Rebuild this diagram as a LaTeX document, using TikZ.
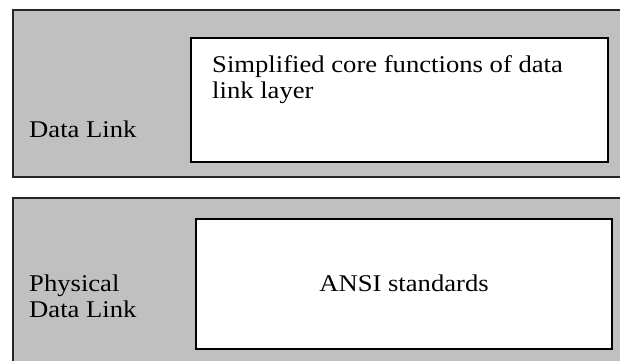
\documentclass[tikz,border=0pt]{standalone}
\usepackage{fontspec}
\setmainfont{Liberation Serif}[FakeStretch=1.11]
\usetikzlibrary{positioning}
\definecolor{layergray}{RGB}{192,192,192}
\tikzstyle{layer}=[draw=black!85,line width=1.5pt,fill=layergray,anchor=north west,inner sep=0pt]
\tikzstyle{funcbox}=[draw=black,line width=2pt,fill=white,anchor=north west,inner sep=0pt]
\tikzstyle{label}=[anchor=base west,inner sep=0pt,align=left]

\begin{document}
\begin{tikzpicture}[x=1pt,y=1pt,font=\fontsize{24}{26.5}\selectfont]
    \useasboundingbox (0,0) rectangle (620,-360);
    \clip (0,0) rectangle (620,-360);
    % upper layer
    \node (DL) [layer,minimum width=640pt,minimum height=167pt] at (12,-9) {};
    \node (DLcore) [funcbox,minimum width=417pt,minimum height=124pt] at (190,-37) {};
    \node (DLtext) [label] at (212,-98.5) {Simplified core functions of data\\link layer};
    \node (DLname) [label] at (29,-137) {Data Link};
    % lower layer
    \node (PDL) [layer,minimum width=640pt,minimum height=200pt] at (12,-197) {};
    \node (PDLcore) [funcbox,minimum width=416pt,minimum height=130pt] at (195,-217.5) {};
    \node (PDLtext) at (PDLcore.center) {ANSI standards};
    \node (PDLname) [label] at (29,-317.5) {Physical\\Data Link};
\end{tikzpicture}
\end{document}
